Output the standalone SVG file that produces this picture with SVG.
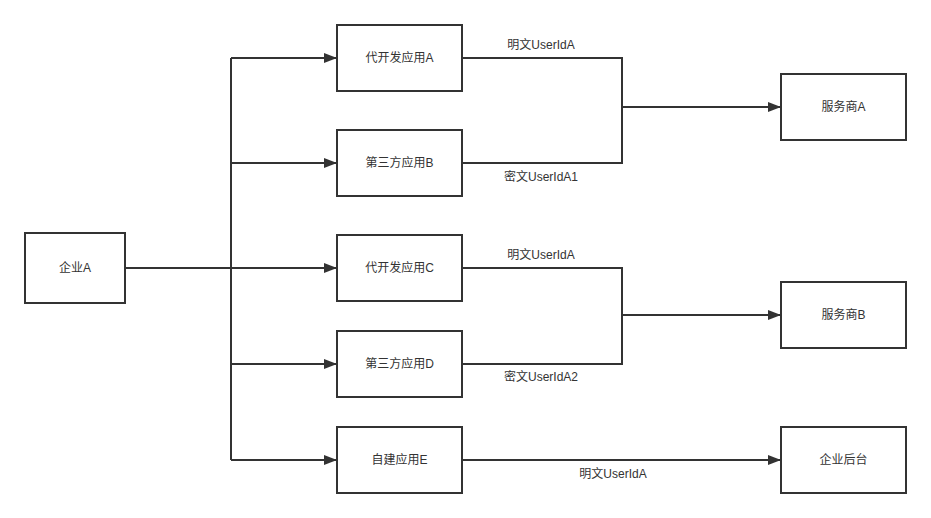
<svg xmlns="http://www.w3.org/2000/svg" width="931" height="518" viewBox="0 0 931 518">
<style>
.box{fill:#fff;stroke:#333;stroke-width:2}
.lbl{font-family:"Liberation Sans","Noto Sans CJK SC",sans-serif;font-size:12px;fill:#333;text-anchor:middle;dominant-baseline:central}
.ln{fill:none;stroke:#333;stroke-width:2}
</style>
<defs>
<marker id="arr" viewBox="0 0 13 10" refX="13" refY="5" markerWidth="13" markerHeight="10" markerUnits="userSpaceOnUse" orient="auto">
<path d="M0,0 L13,5 L0,10 Z" fill="#333"/>
</marker>
</defs>
<rect width="931" height="518" fill="#fff"/>
<g id="connectors">
<path class="ln" d="M125,268 H231"/>
<path class="ln" d="M231,58 V460"/>
<path class="ln" d="M231,58 H337" marker-end="url(#arr)"/>
<path class="ln" d="M231,163 H337" marker-end="url(#arr)"/>
<path class="ln" d="M231,268 H337" marker-end="url(#arr)"/>
<path class="ln" d="M231,364 H337" marker-end="url(#arr)"/>
<path class="ln" d="M231,460 H337" marker-end="url(#arr)"/>
<path class="ln" d="M462,58 H622 V163 H462"/>
<path class="ln" d="M622,107 H781" marker-end="url(#arr)"/>
<path class="ln" d="M462,268 H622 V364 H462"/>
<path class="ln" d="M622,315 H781" marker-end="url(#arr)"/>
<path class="ln" d="M462,460 H781" marker-end="url(#arr)"/>
<text class="lbl" x="541" y="45">明文UserIdA</text>
<text class="lbl" x="541" y="177">密文UserIdA1</text>
<text class="lbl" x="541" y="255">明文UserIdA</text>
<text class="lbl" x="541" y="377">密文UserIdA2</text>
<text class="lbl" x="613" y="474">明文UserIdA</text>
</g>
<g id="qiyeA"><rect class="box" x="25" y="233" width="100" height="70"/><text class="lbl" x="75" y="268">企业A</text></g>
<g id="appA"><rect class="box" x="337" y="25" width="125" height="66"/><text class="lbl" x="399.5" y="58">代开发应用A</text></g>
<g id="appB"><rect class="box" x="337" y="130" width="125" height="66"/><text class="lbl" x="399.5" y="163">第三方应用B</text></g>
<g id="appC"><rect class="box" x="337" y="235" width="125" height="66"/><text class="lbl" x="399.5" y="268">代开发应用C</text></g>
<g id="appD"><rect class="box" x="337" y="331" width="125" height="66"/><text class="lbl" x="399.5" y="364">第三方应用D</text></g>
<g id="appE"><rect class="box" x="337" y="427" width="125" height="66"/><text class="lbl" x="399.5" y="460">自建应用E</text></g>
<g id="fwsA"><rect class="box" x="781" y="74" width="125" height="66"/><text class="lbl" x="843.5" y="107">服务商A</text></g>
<g id="fwsB"><rect class="box" x="781" y="282" width="125" height="66"/><text class="lbl" x="843.5" y="315">服务商B</text></g>
<g id="houtai"><rect class="box" x="781" y="427" width="125" height="66"/><text class="lbl" x="843.5" y="460">企业后台</text></g>
</svg>
